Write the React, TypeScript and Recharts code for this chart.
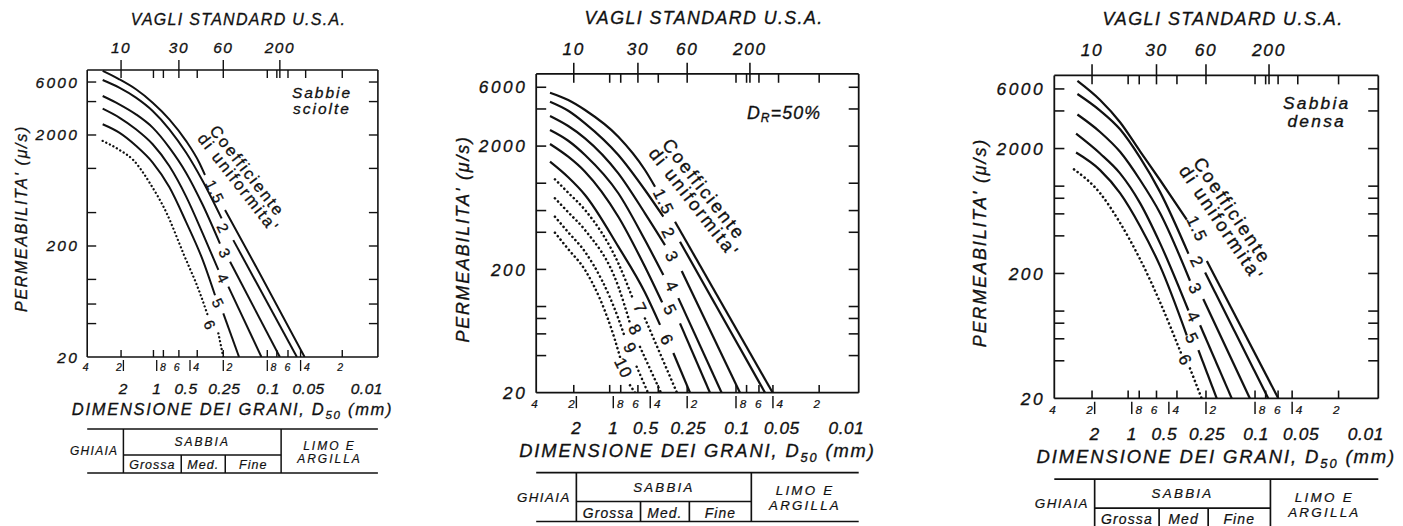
import React from 'react';
import { LineChart, Line, XAxis, YAxis, ReferenceDot } from 'recharts';

const FONT = "'Liberation Sans', Arial, Helvetica, sans-serif";
const INK = '#111';
const W = 1403;
const H = 526;

// assi: dimensione dei grani D50 (mm, invertito) e permeabilita' (micron/s)
const X_MAX = 4.25;
const X_MIN = 0.01;
const Y_MIN = 20;
const Y_MAX = 7700;

// etichette sotto l'asse x
const SMALL_TICKS = [4, 2, 0.8, 0.6, 0.4, 0.2, 0.08, 0.06, 0.04, 0.02];
const SMALL_TEXT = ['4', '2', '8', '6', '4', '2', '8', '6', '4', '2'];
const MAJOR_TICKS = [2, 1, 0.5, 0.25, 0.1, 0.05, 0.01];
const MAJOR_TEXT = ['2', '1', '0.5', '0.25', '0.1', '0.05', '0.01'];
const SEPARATOR_TICKS = [2, 1, 0.5, 0.25, 0.1, 0.05];
const INNER_TICKS = [2.1, 1.07, 0.87, 0.63, 0.43, 0.25, 0.1, 0.082, 0.065, 0.05, 0.021];

// vagli standard U.S.A. (asse superiore)
const SIEVE_TICKS = [2.1, 0.63, 0.25, 0.077];
const SIEVE_TEXT = ['10', '30', '60', '200'];
const SIEVE_MINOR = [1.07, 0.87, 0.43, 0.1, 0.082, 0.065, 0.045, 0.021];

const Y_LABELS = [20, 200, 2000, 6000];
const Y_TICKS_LOOSE = [20, 40, 60, 100, 200, 400, 1000, 2000, 4000, 6000];
const Y_TICKS_MEDIUM = [20, 40, 60, 80, 100, 200, 400, 600, 1000, 2000, 4000, 6000];
const Y_TICKS_DENSE = [20, 40, 60, 80, 100, 200, 400, 600, 800, 1000, 2000, 4000, 6000];

// limiti ghiaia / sabbia grossa / media / fine / limo (mm)
const SOIL_LIMITS = [2, 0.6, 0.24, 0.075];

type Pt = [number, number] | null;

// Sabbie sciolte: [D50 mm, k], null = interruzione per l'etichetta
const LOOSE_15: Pt[] = [[3.08, 7550], [2.18, 6350], [1.54, 5160], [1.087, 3910], [0.769, 2770], [0.543, 1770], [0.412, 1125], [0.366, 872], null, [0.241, 422], [0.118, 115], [0.046, 20]];
const LOOSE_2: Pt[] = [[3.08, 6260], [2.18, 5340], [1.54, 4340], [1.087, 3290], [0.769, 2250], [0.543, 1390], [0.384, 770], [0.259, 355], null, [0.203, 226], [0.054, 20]];
const LOOSE_3: Pt[] = [[3.08, 4490], [2.18, 3780], [1.54, 3070], [1.087, 2330], [0.769, 1540], [0.543, 916], [0.384, 470], [0.268, 210], null, [0.217, 144], [0.077, 20]];
const LOOSE_4: Pt[] = [[3.08, 3450], [2.18, 2870], [1.54, 2250], [1.087, 1650], [0.769, 1050], [0.543, 560], [0.384, 260], [0.277, 122], null, [0.225, 86], [0.113, 20]];
const LOOSE_5: Pt[] = [[3.08, 2500], [2.18, 2100], [1.54, 1600], [1.087, 1130], [0.769, 680], [0.543, 330], [0.384, 150], [0.297, 72], null, [0.25, 49.5], [0.18, 20]];
const LOOSE_6: Pt[] = [[3.08, 1770], [2.18, 1470], [1.63, 1191], [1.15, 734], [0.812, 394], [0.575, 172], [0.406, 75], [0.342, 46], null, [0.277, 32.7], [0.25, 20]];

// D_R = 50%
const MEDIUM_15: Pt[] = [[3.28, 5420], [2.33, 4730], [1.7, 3925], [0.91, 2384], [0.552, 1280], [0.457, 937], null, [0.314, 487], [0.0502, 20]];
const MEDIUM_2: Pt[] = [[3.28, 4580], [2.33, 3870], [1.7, 3061], [0.91, 1694], [0.552, 881], [0.391, 535], null, [0.286, 335], [0.058, 20]];
const MEDIUM_3: Pt[] = [[3.28, 3510], [2.33, 2910], [1.7, 2314], [0.91, 1203], [0.552, 570], [0.379, 315], null, [0.277, 194], [0.0928, 20]];
const MEDIUM_4: Pt[] = [[3.28, 2700], [2.33, 2210], [1.7, 1694], [0.91, 829], [0.552, 346], [0.391, 180], null, [0.295, 117], [0.131, 20]];
const MEDIUM_5: Pt[] = [[3.28, 2080], [2.33, 1640], [1.7, 1240], [0.91, 535], [0.552, 210], [0.4, 108], null, [0.286, 73], [0.163, 20]];
const MEDIUM_6: Pt[] = [[3.28, 1495], [2.33, 1117], [1.7, 803], [0.91, 306], [0.552, 130], [0.416, 71], null, [0.324, 42], [0.237, 20]];
const MEDIUM_7: Pt[] = [[2.99, 1076], [2.33, 837], [1.7, 607], [0.91, 224], [0.687, 113], null, [0.552, 80], [0.303, 20]];
const MEDIUM_8: Pt[] = [[2.99, 755], [2.33, 581], [1.7, 417], [0.91, 145], [0.731, 73], null, [0.606, 47], [0.409, 20]];
const MEDIUM_9: Pt[] = [[2.99, 535], [2.33, 400], [1.7, 278], [0.91, 80], [0.803, 56], null, [0.645, 32.5], [0.522, 20]];
const MEDIUM_10: Pt[] = [[2.99, 397], [2.33, 292], [1.7, 198], [0.969, 53.5], [0.882, 39], null, [0.731, 23], [0.665, 20]];

// Sabbia densa
const DENSE_15: Pt[] = [[2.76, 6970], [1.807, 4900], [1.244, 3250], [0.856, 1900], [0.59, 1120], [0.358, 540], null, [0.246, 252], [0.0647, 20]];
const DENSE_2: Pt[] = [[2.76, 5465], [1.807, 4027], [1.244, 2850], [0.856, 1690], [0.59, 900], [0.347, 288], null, [0.254, 204], [0.078, 20]];
const DENSE_3: Pt[] = [[2.76, 3743], [1.807, 2714], [1.244, 1883], [0.856, 1120], [0.59, 610], [0.337, 175], null, [0.263, 125], [0.11, 20]];
const DENSE_4: Pt[] = [[2.83, 2630], [1.807, 1825], [1.244, 1266], [0.856, 732], [0.59, 350], [0.347, 101], null, [0.279, 77], [0.1545, 20]];
const DENSE_5: Pt[] = [[2.83, 1858], [1.807, 1345], [1.244, 879], [0.856, 478], [0.59, 230], [0.358, 64], null, [0.288, 48.7], [0.2045, 20]];
const DENSE_6: Pt[] = [[2.94, 1362], [1.807, 879], [1.244, 508], [0.856, 260], [0.59, 118], [0.393, 44.5], null, [0.337, 34.8], [0.271, 20]];

// etichette delle curve: [testo, D50, k]
const LOOSE_TAGS: [string, number, number][] = [['1.5', 0.297, 617], ['2', 0.25, 289], ['3', 0.241, 172], ['4', 0.25, 102], ['5', 0.277, 61], ['6', 0.33, 38.8]];
const MEDIUM_TAGS: [string, number, number][] = [['1.5', 0.391, 708], ['2', 0.356, 393], ['3', 0.334, 253], ['4', 0.334, 145], ['5', 0.345, 93.7], ['6', 0.367, 53.5], ['7', 0.606, 96.7], ['8', 0.665, 64.5], ['9', 0.731, 45.8], ['10', 0.829, 31.6]];
const DENSE_TAGS: [string, number, number][] = [['1.5', 0.297, 456], ['2', 0.297, 247], ['3', 0.307, 151], ['4', 0.3166, 89.7], ['5', 0.326, 60.2], ['6', 0.37, 40.4]];

type Geo = { s: number; left: number; top: number; width: number; height: number };

const toSegments = (pts: Pt[]) => {
  const segs: { d: number; k: number }[][] = [[]];
  pts.forEach((p) => (p ? segs[segs.length - 1].push({ d: p[0], k: p[1] }) : segs.push([])));
  return segs;
};

// testo un po' "pesante" come nella stampa originale
const txt = (s: number, size: number, extra: any = {}) => ({
  fontFamily: FONT,
  fontSize: size * s,
  fill: INK,
  stroke: INK,
  strokeWidth: 0.3 * s,
  ...extra
});

const BottomTick = (props: any) => {
  const { x, y, payload, s } = props;
  const v = payload.value;
  const si = SMALL_TICKS.indexOf(v);
  const mi = MAJOR_TICKS.indexOf(v);
  const shift: Record<string, number> = { '0.5': -4, '0.25': 1, '0.1': 1, '0.05': 8, '0.01': 5 };
  return (
    <g>
      {INNER_TICKS.includes(v) && <line x1={x} x2={x} y1={y} y2={y - 7 * s} stroke={INK} strokeWidth={1.4 * s} />}
      {SEPARATOR_TICKS.includes(v) && <line x1={x} x2={x} y1={y + 3 * s} y2={y + 14 * s} stroke={INK} strokeWidth={1.3 * s} />}
      {si >= 0 && (
        <text x={x - 4.5 * s} y={y + 13.5 * s} textAnchor='middle' {...txt(s, 10.5, { fontStyle: 'italic', strokeWidth: 0.2 * s })}>
          {SMALL_TEXT[si]}
        </text>
      )}
      {mi >= 0 && (
        <text
          x={x + (shift[MAJOR_TEXT[mi]] || 0) * s}
          y={y + 37 * s}
          textAnchor={v === X_MIN ? 'end' : 'middle'}
          {...txt(s, 15.5, { fontStyle: 'italic', letterSpacing: 0.5 * s })}
        >
          {MAJOR_TEXT[mi]}
        </text>
      )}
    </g>
  );
};

const TopTick = (props: any) => {
  const { x, y, payload, s } = props;
  const i = SIEVE_TICKS.indexOf(payload.value);
  if (i < 0) return <line x1={x} x2={x} y1={y} y2={y + 8 * s} stroke={INK} strokeWidth={1.4 * s} />;
  return (
    <g>
      <line x1={x} x2={x} y1={y - 10 * s} y2={y + 8 * s} stroke={INK} strokeWidth={1.4 * s} />
      <text x={x} y={y - 17 * s} textAnchor='middle' {...txt(s, 15.5, { fontStyle: 'italic', letterSpacing: 1.5 * s })}>
        {SIEVE_TEXT[i]}
      </text>
    </g>
  );
};

const LeftTick = (props: any) => {
  const { x, y, payload, s } = props;
  const v = payload.value;
  return (
    <g>
      {v !== Y_MIN && <line x1={x} x2={x + 9 * s} y1={y} y2={y} stroke={INK} strokeWidth={1.4 * s} />}
      {Y_LABELS.includes(v) && (
        <text x={x - 8 * s} y={y + 5.5 * s} textAnchor='end' {...txt(s, 15.5, { fontStyle: 'italic', letterSpacing: 2.3 * s })}>
          {v}
        </text>
      )}
    </g>
  );
};

const RightTick = (props: any) => {
  const { x, y, payload, s } = props;
  if (payload.value === Y_MIN) return <g />;
  return <line x1={x - 9 * s} x2={x} y1={y} y2={y} stroke={INK} strokeWidth={1.4 * s} />;
};

const CurveTag = ({ cx, cy, text, s }: any) => (
  <text
    x={cx}
    y={cy}
    transform={`rotate(64 ${cx} ${cy})`}
    textAnchor='middle'
    dominantBaseline='central'
    {...txt(s, 15, { letterSpacing: 1 * s })}
  >
    {text}
  </text>
);

const Uniformity = ({ cx, cy, s, angle }: any) => (
  <g transform={`translate(${cx} ${cy}) rotate(${angle})`}>
    <text x={0} y={-7 * s} textAnchor='middle' dominantBaseline='central' {...txt(s, 16.5, { letterSpacing: 2 * s })}>
      Coefficiente
    </text>
    <text x={4 * s} y={7.5 * s} textAnchor='middle' dominantBaseline='central' {...txt(s, 16.5, { letterSpacing: 2 * s })}>
      di uniformita'
    </text>
  </g>
);

const Note = ({ cx, cy, s, lines }: any) => (
  <g>
    {lines.map((l: string, i: number) => (
      <text
        key={l}
        x={cx}
        y={cy + (i - (lines.length - 1) / 2) * 16 * s}
        textAnchor='middle'
        dominantBaseline='central'
        {...txt(s, 15.5, { fontStyle: 'italic', letterSpacing: 2 * s })}
      >
        {l}
      </text>
    ))}
  </g>
);

const DrNote = ({ cx, cy, s }: any) => (
  <text x={cx} y={cy} textAnchor='middle' dominantBaseline='central' {...txt(s, 16, { fontStyle: 'italic', letterSpacing: 1 * s })}>
    D<tspan dy={4 * s} fontSize={11 * s}>R</tspan>
    <tspan dy={-4 * s}>=50%</tspan>
  </text>
);

type PanelProps = {
  g: Geo;
  curves: { pts: Pt[]; dotted: boolean }[];
  tags: [string, number, number][];
  yTicks: number[];
  uniformity: [number, number, number];
  note: any;
  noteAt: [number, number];
  med: string;
};

const Panel = ({ g, curves, tags, yTicks, uniformity, note, noteAt, med }: PanelProps) => {
  const s = g.s;
  const bottom = g.top + g.height;
  const right = g.left + g.width;
  const axisLine = { stroke: INK, strokeWidth: 1.6 * s };
  const xOf = (mm: number) =>
    g.left + (g.width * (Math.log10(X_MAX) - Math.log10(mm))) / (Math.log10(X_MAX) - Math.log10(X_MIN));
  const [xG, xM1, xM2, xL] = SOIL_LIMITS.map(xOf);
  const tTop = bottom + 72 * s;
  const tMid = bottom + 98 * s;
  const tBot = bottom + 116 * s;
  const line = { stroke: INK, strokeWidth: 1.5 * s };
  const yTitleX = g.left - 66 * s;
  const yTitleY = g.top + g.height / 2 + 5 * s;

  return (
    <>
      <div style={{ position: 'absolute', left: 0, top: 0 }}>
        <LineChart
          width={W}
          height={H}
          margin={{ top: g.top - 1, left: g.left - 1, right: W - right - 1, bottom: H - bottom - 1 }}
        >
          <XAxis
            xAxisId='b'
            dataKey='d'
            type='number'
            scale='log'
            domain={[X_MIN, X_MAX]}
            allowDataOverflow
            reversed
            height={1}
            ticks={Array.from(new Set([...SMALL_TICKS, ...MAJOR_TICKS, ...INNER_TICKS]))}
            interval={0}
            tickSize={0}
            tickMargin={0}
            tickLine={false}
            axisLine={axisLine}
            tick={(p: any) => <BottomTick {...p} s={s} />}
          />
          <XAxis
            xAxisId='t'
            orientation='top'
            dataKey='d'
            type='number'
            scale='log'
            domain={[X_MIN, X_MAX]}
            allowDataOverflow
            reversed
            height={1}
            ticks={[...SIEVE_TICKS, ...SIEVE_MINOR]}
            interval={0}
            tickSize={0}
            tickMargin={0}
            tickLine={false}
            axisLine={axisLine}
            tick={(p: any) => <TopTick {...p} s={s} />}
          />
          <YAxis
            yAxisId='l'
            type='number'
            scale='log'
            domain={[Y_MIN, Y_MAX]}
            allowDataOverflow
            width={1}
            ticks={yTicks}
            interval={0}
            tickSize={0}
            tickMargin={0}
            tickLine={false}
            axisLine={axisLine}
            tick={(p: any) => <LeftTick {...p} s={s} />}
          />
          <YAxis
            yAxisId='r'
            orientation='right'
            type='number'
            scale='log'
            domain={[Y_MIN, Y_MAX]}
            allowDataOverflow
            width={1}
            ticks={yTicks}
            interval={0}
            tickSize={0}
            tickMargin={0}
            tickLine={false}
            axisLine={axisLine}
            tick={(p: any) => <RightTick {...p} s={s} />}
          />
          {curves.flatMap((c, ci) =>
            toSegments(c.pts).map((seg, si) => (
              <Line
                key={`${ci}-${si}`}
                data={seg}
                dataKey='k'
                xAxisId='b'
                yAxisId='l'
                type='monotone'
                stroke={INK}
                strokeWidth={(c.dotted ? 2.3 : 2) * s}
                strokeDasharray={c.dotted ? `0.1 ${3.9 * s}` : undefined}
                strokeLinecap={c.dotted ? 'round' : 'butt'}
                dot={false}
                activeDot={false}
                isAnimationActive={false}
              />
            ))
          )}
          {tags.map(([t, d, k]) => (
            <ReferenceDot
              key={t}
              xAxisId='b'
              yAxisId='l'
              x={d}
              y={k}
              r={0}
              shape={(p: any) => <CurveTag cx={p.cx} cy={p.cy} text={t} s={s} />}
            />
          ))}
          <ReferenceDot
            xAxisId='b'
            yAxisId='l'
            x={uniformity[0]}
            y={uniformity[1]}
            r={0}
            shape={(p: any) => <Uniformity cx={p.cx} cy={p.cy} s={s} angle={uniformity[2]} />}
          />
          <ReferenceDot
            xAxisId='b'
            yAxisId='l'
            x={noteAt[0]}
            y={noteAt[1]}
            r={0}
            shape={(p: any) =>
              note === 'DR' ? <DrNote cx={p.cx} cy={p.cy} s={s} /> : <Note cx={p.cx} cy={p.cy} s={s} lines={note} />
            }
          />
        </LineChart>
      </div>
      <svg width={W} height={H} style={{ position: 'absolute', left: 0, top: 0 }}>
        <text
          x={g.left + g.width / 2 + 6 * s}
          y={g.top - 45 * s}
          textAnchor='middle'
          {...txt(s, 16, { fontStyle: 'italic', letterSpacing: 1.3 * s })}
        >
          VAGLI STANDARD U.S.A.
        </text>
        <text
          x={yTitleX}
          y={yTitleY}
          transform={`rotate(-90 ${yTitleX} ${yTitleY})`}
          textAnchor='middle'
          dominantBaseline='central'
          {...txt(s, 16, { fontStyle: 'italic', letterSpacing: 1.7 * s })}
        >
          PERMEABILITA' (μ/s)
        </text>
        <text
          x={g.left + g.width / 2}
          y={bottom + 58 * s}
          textAnchor='middle'
          {...txt(s, 16.5, { fontStyle: 'italic', letterSpacing: 1.7 * s })}
        >
          DIMENSIONE DEI GRANI, D
          <tspan dy={4 * s} fontSize={11.5 * s}>
            50
          </tspan>
          <tspan dy={-4 * s}> (mm)</tspan>
        </text>

        {/* classificazione */}
        <line x1={g.left} x2={right} y1={tTop} y2={tTop} {...line} />
        <line x1={g.left} x2={right} y1={tBot} y2={tBot} {...line} />
        <line x1={xG} x2={xL} y1={tMid} y2={tMid} {...line} />
        <line x1={xG} x2={xG} y1={tTop} y2={tBot} {...line} />
        <line x1={xL} x2={xL} y1={tTop} y2={tBot} {...line} />
        <line x1={xM1} x2={xM1} y1={tMid} y2={tBot} {...line} />
        <line x1={xM2} x2={xM2} y1={tMid} y2={tBot} {...line} />
        <text x={xG - 5 * s} y={(tTop + tBot) / 2} textAnchor='end' dominantBaseline='central' {...txt(s, 12, { fontStyle: 'italic', letterSpacing: 1.3 * s, strokeWidth: 0.2 * s })}>
          GHIAIA
        </text>
        <text x={(xG + xL) / 2} y={(tTop + tMid) / 2} textAnchor='middle' dominantBaseline='central' {...txt(s, 12, { fontStyle: 'italic', letterSpacing: 2 * s, strokeWidth: 0.2 * s })}>
          SABBIA
        </text>
        <text x={(xL + right) / 2} y={tTop + 16.5 * s} textAnchor='middle' dominantBaseline='central' {...txt(s, 12, { fontStyle: 'italic', letterSpacing: 2 * s, strokeWidth: 0.2 * s })}>
          LIMO E
        </text>
        <text x={(xL + right) / 2} y={tTop + 29.5 * s} textAnchor='middle' dominantBaseline='central' {...txt(s, 12, { fontStyle: 'italic', letterSpacing: 2 * s, strokeWidth: 0.2 * s })}>
          ARGILLA
        </text>
        <text x={(xG + xM1) / 2} y={(tMid + tBot) / 2 + 1 * s} textAnchor='middle' dominantBaseline='central' {...txt(s, 12.5, { fontStyle: 'italic', letterSpacing: 1 * s, strokeWidth: 0.2 * s })}>
          Grossa
        </text>
        <text x={(xM1 + xM2) / 2} y={(tMid + tBot) / 2 + 1 * s} textAnchor='middle' dominantBaseline='central' {...txt(s, 12.5, { fontStyle: 'italic', letterSpacing: 1 * s, strokeWidth: 0.2 * s })}>
          {med}
        </text>
        <text x={(xM2 + xL) / 2} y={(tMid + tBot) / 2 + 1 * s} textAnchor='middle' dominantBaseline='central' {...txt(s, 12.5, { fontStyle: 'italic', letterSpacing: 1 * s, strokeWidth: 0.2 * s })}>
          Fine
        </text>
      </svg>
    </>
  );
};

const solid = (pts: Pt[]) => ({ pts, dotted: false });
const dotted = (pts: Pt[]) => ({ pts, dotted: true });

export default function App() {
  return (
    <div
      style={{
        position: 'absolute',
        left: 0,
        top: 0,
        width: W,
        height: H,
        background: '#fff',
        overflow: 'hidden'
      }}
    >
      <Panel
        g={{ s: 1, left: 87.2, top: 70, width: 290.7, height: 287 }}
        curves={[solid(LOOSE_15), solid(LOOSE_2), solid(LOOSE_3), solid(LOOSE_4), solid(LOOSE_5), dotted(LOOSE_6)]}
        tags={LOOSE_TAGS}
        yTicks={Y_TICKS_LOOSE}
        uniformity={[0.169, 872, 52]}
        note={['Sabbie', 'sciolte']}
        noteAt={[0.032, 4100]}
        med='Med.'
      />
      <Panel
        g={{ s: 1.11, left: 536.2, top: 73.9, width: 322.5, height: 318.8 }}
        curves={[
          solid(MEDIUM_15),
          solid(MEDIUM_2),
          solid(MEDIUM_3),
          solid(MEDIUM_4),
          solid(MEDIUM_5),
          solid(MEDIUM_6),
          dotted(MEDIUM_7),
          dotted(MEDIUM_8),
          dotted(MEDIUM_9),
          dotted(MEDIUM_10)
        ]}
        tags={MEDIUM_TAGS}
        yTicks={Y_TICKS_MEDIUM}
        uniformity={[0.204, 818, 52]}
        note='DR'
        noteAt={[0.0406, 3690]}
        med='Med.'
      />
      <Panel
        g={{ s: 1.12, left: 1054.3, top: 75.4, width: 324, height: 323 }}
        curves={[solid(DENSE_15), solid(DENSE_2), solid(DENSE_3), solid(DENSE_4), solid(DENSE_5), dotted(DENSE_6)]}
        tags={DENSE_TAGS}
        yTicks={Y_TICKS_DENSE}
        uniformity={[0.172, 588, 56]}
        note={['Sabbia', 'densa']}
        noteAt={[0.0316, 3940]}
        med='Med'
      />
    </div>
  );
}
